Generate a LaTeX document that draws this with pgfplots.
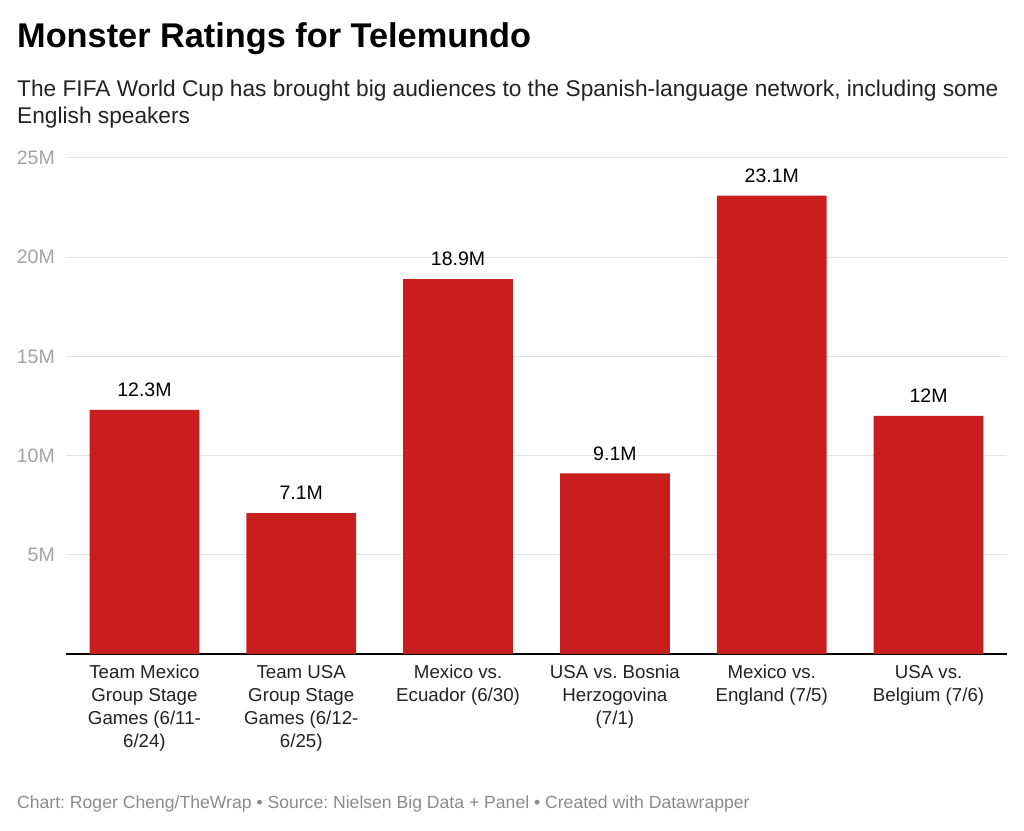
\documentclass[border=0pt]{standalone}
\usepackage{pgfplots}
\pgfplotsset{compat=1.18}
\usepackage{fontspec}
\setmainfont{Liberation Sans}
\definecolor{barred}{HTML}{C81E1E}
\definecolor{gridc}{HTML}{E3E3E3}
\definecolor{tickc}{HTML}{A3A3A3}
\definecolor{footc}{HTML}{8A8A8A}
\definecolor{labc}{HTML}{222222}
\begin{document}
\frenchspacing
\begin{tikzpicture}[x=1bp,y=1bp]
\useasboundingbox (0,0) rectangle (1024,831);
\node[anchor=base west,inner sep=0pt,font=\fontsize{34.3bp}{40bp}\selectfont\bfseries] at (17,783) {Monster Ratings for Telemundo};
\node[anchor=base west,inner sep=0pt,font=\fontsize{22.7bp}{26bp}\selectfont,text=labc] at (17,734) {The FIFA World Cup has brought big audiences to the Spanish-language network, including some};
\node[anchor=base west,inner sep=0pt,font=\fontsize{22.7bp}{26bp}\selectfont,text=labc] at (17,707) {English speakers};
\node[anchor=base west,inner sep=0pt,font=\fontsize{17.6bp}{20bp}\selectfont,text=footc] at (17,22) {Chart: Roger Cheng/TheWrap • Source: Nielsen Big Data + Panel • Created with Datawrapper};
\begin{axis}[
  at={(66bp,177bp)}, anchor=south west,
  scale only axis, width=941bp, height=496bp,
  xmin=-0.5, xmax=5.5, ymin=0, ymax=25,
  axis line style={draw=none},
  major tick length=0pt,
  ytick={5,10,15,20,25},
  yticklabels={5M,10M,15M,20M,25M},
  ymajorgrids, grid style={gridc, line width=1bp},
  extra y ticks={0}, extra y tick labels={},
  extra y tick style={grid style={black,line width=1.3bp}},
  yticklabel style={font=\fontsize{19.5bp}{22bp}\selectfont, text=tickc, anchor=east, inner sep=0pt, xshift=-11bp},
  xtick=data,
  xticklabels={{Team Mexico\\Group Stage\\Games (6/11-\\6/24)},{Team USA\\Group Stage\\Games (6/12-\\6/25)},{Mexico vs.\\Ecuador (6/30)},{USA vs. Bosnia\\Herzogovina\\(7/1)},{Mexico vs.\\England (7/5)},{USA vs.\\Belgium (7/6)}},
  xticklabel style={font=\fontsize{18.7bp}{23bp}\selectfont, text=labc, align=center, anchor=north, inner sep=0pt, yshift=-11bp},
  /pgf/number format/assume math mode=true,
  nodes near coords={\pgfmathprintnumber{\pgfplotspointmeta}M},
  every node near coord/.append style={font=\fontsize{19.5bp}{22bp}\selectfont, text=black, anchor=south, inner sep=0pt, yshift=13bp},
  clip=false,
]
\addplot[ybar, bar width=0.70, fill=barred, draw=none] coordinates {(0,12.3) (1,7.1) (2,18.9) (3,9.1) (4,23.1) (5,12)};
\end{axis}
\end{tikzpicture}
\end{document}
